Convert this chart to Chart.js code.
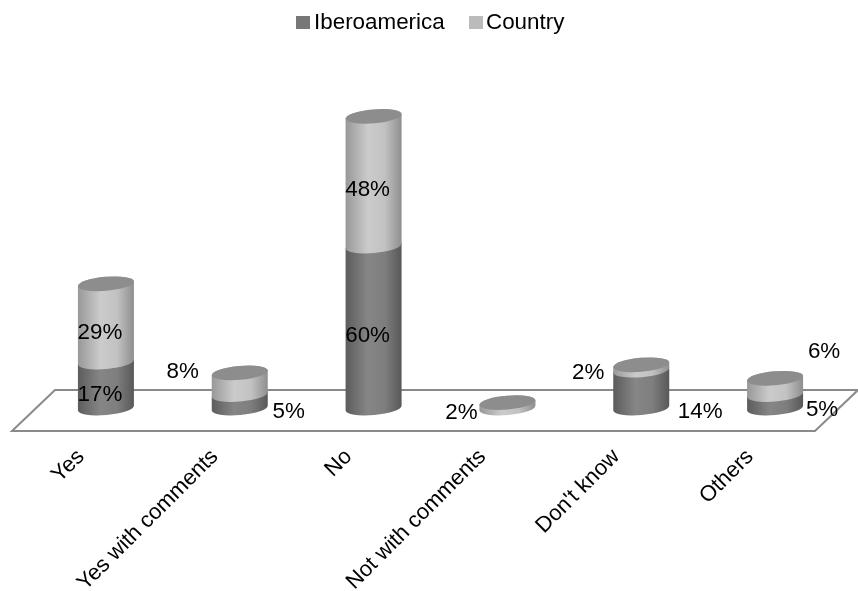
<!DOCTYPE html>
<html>
<head>
<meta charset="utf-8">
<script src="https://cdn.jsdelivr.net/npm/chart.js@4"></script>
<style>
html, body { margin: 0; background: #fff; }
canvas { display: block; }
</style>
</head>
<body>
<canvas id="chart" width="858" height="591"></canvas>
<script>
const categories = ['Yes', 'Yes with comments', 'No', 'Not with comments', "Don't know", 'Others'];
const iberoamerica = [17, 5, 60, 0, 14, 5];
const country = [29, 8, 48, 2, 2, 6];

// where the percent labels sit relative to the middle of their segment
const iberoOffsets = [[-6, 9], [49, 10], [-6, 8], null, [59, 22], [47, 8]];
const countryOffsets = [[-6, 9], [-57, -13], [-6, 8], [-46, 7], [-53, 4], [49, -36]];

const FONT = '22.4px "Liberation Sans", Arial, sans-serif';
const TILT = -5 * Math.PI / 180;
const RY = 7;

const shades = [
    ['#5c5c5c', '#868686', '#7e7e7e', '#585858'],
    ['#989898', '#cbcbcb', '#c2c2c2', '#8e8e8e']
];

function sideGradient(ctx, left, right, cols) {
    const g = ctx.createLinearGradient(left, 0, right, 0);
    g.addColorStop(0, cols[0]);
    g.addColorStop(0.4, cols[1]);
    g.addColorStop(0.7, cols[2]);
    g.addColorStop(1, cols[3]);
    return g;
}

const cylinders = {
    id: 'cylinders',
    beforeDatasetsDraw(chart) {
        const { ctx, chartArea: a } = chart;
        ctx.save();

        // floor of the 3d chart
        ctx.beginPath();
        ctx.moveTo(a.left - 27, a.bottom + 23);
        ctx.lineTo(a.right - 27, a.bottom + 23);
        ctx.lineTo(a.right + 16, a.bottom - 18);
        ctx.lineTo(a.left + 16, a.bottom - 18);
        ctx.closePath();
        ctx.strokeStyle = '#8a8a8a';
        ctx.lineWidth = 2;
        ctx.stroke();

        // bottom segment first, chart.js would paint the stack the other way round
        [0, 1].forEach(d => {
            chart.getDatasetMeta(d).data.forEach((bar, i) => {
                if (chart.data.datasets[d].data[i] === 0) return;
                const rx = bar.width / 2;
                ctx.beginPath();
                ctx.ellipse(bar.x, bar.base, rx, RY, TILT, 0, Math.PI);
                ctx.ellipse(bar.x, bar.y, rx, RY, TILT, Math.PI, 2 * Math.PI);
                ctx.closePath();
                ctx.fillStyle = sideGradient(ctx, bar.x - rx, bar.x + rx, shades[d]);
                ctx.fill();
            });
        });
        ctx.restore();
    },
    beforeDatasetDraw() {
        return false;
    },
    afterDatasetsDraw(chart) {
        const ctx = chart.ctx;
        const top = chart.getDatasetMeta(1).data;
        ctx.save();
        top.forEach(bar => {
            ctx.beginPath();
            ctx.ellipse(bar.x, bar.y, bar.width / 2, RY, TILT, 0, 2 * Math.PI);
            ctx.fillStyle = '#8d8d8d';
            ctx.fill();
        });

        // percent labels
        ctx.font = FONT;
        ctx.fillStyle = '#000';
        ctx.textAlign = 'center';
        ctx.textBaseline = 'middle';
        [iberoOffsets, countryOffsets].forEach((offsets, d) => {
            chart.getDatasetMeta(d).data.forEach((bar, i) => {
                if (!offsets[i]) return;
                const val = chart.data.datasets[d].data[i];
                const midY = (bar.y + bar.base) / 2;
                ctx.fillText(val + '%', bar.x + offsets[i][0], midY + offsets[i][1] + 1);
            });
        });

        // legend, boxes hug the text so the built in one does not fit
        ctx.textAlign = 'left';
        ctx.fillStyle = '#777';
        ctx.fillRect(296, 16, 14, 13);
        ctx.fillStyle = '#bbb';
        ctx.fillRect(469, 16, 14, 13);
        ctx.fillStyle = '#000';
        ctx.fillText(chart.data.datasets[0].label, 314, 23);
        ctx.fillText(chart.data.datasets[1].label, 486, 23);
        ctx.restore();
    }
};

new Chart(document.getElementById('chart'), {
    type: 'bar',
    data: {
        labels: categories,
        datasets: [
            { label: 'Iberoamerica', data: iberoamerica, backgroundColor: '#777' },
            { label: 'Country', data: country, backgroundColor: '#bbb' }
        ]
    },
    options: {
        responsive: false,
        animation: false,
        layout: { padding: { top: 84, left: 39, right: 16, bottom: 0 } },
        plugins: { legend: { display: false }, tooltip: { enabled: false } },
        scales: {
            x: {
                stacked: true,
                grid: { display: false },
                border: { display: false },
                afterFit(scale) { scale.height = 183; },
                ticks: {
                    autoSkip: false,
                    minRotation: 45,
                    maxRotation: 45,
                    labelOffset: -25,
                    padding: 28,
                    color: '#000',
                    font: { family: '"Liberation Sans", Arial, sans-serif', size: 22 }
                }
            },
            y: {
                stacked: true,
                display: false,
                min: 0,
                max: 120
            }
        },
        datasets: { bar: { barPercentage: 0.42, categoryPercentage: 1 } }
    },
    plugins: [cylinders]
});
</script>
</body>
</html>
